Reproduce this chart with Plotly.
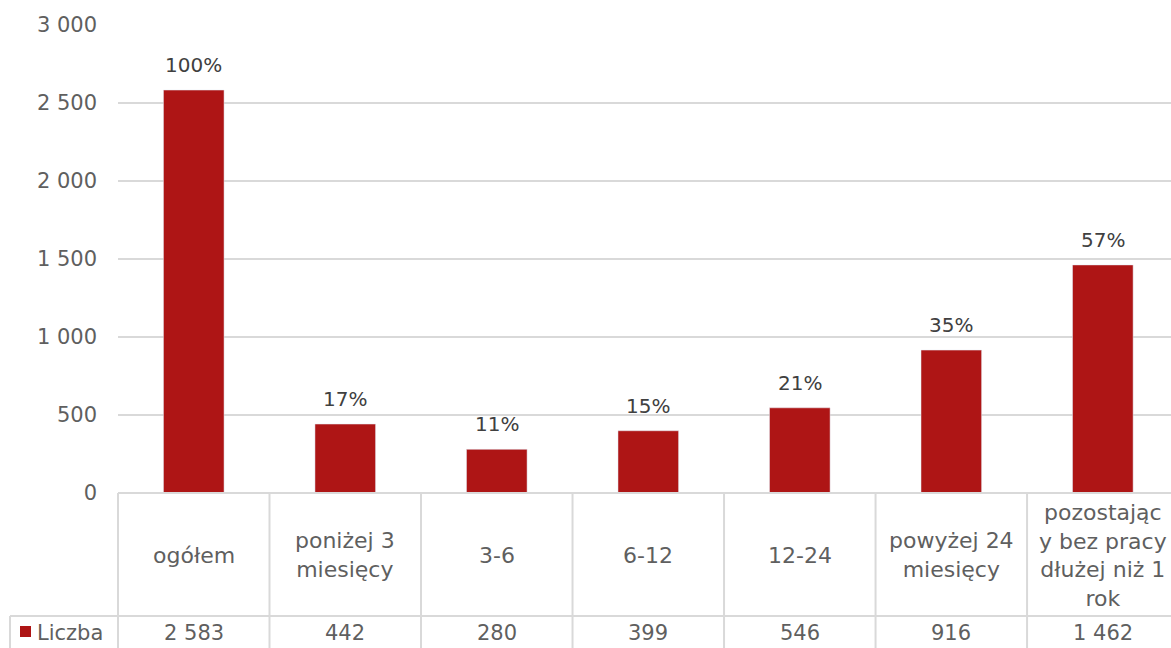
import plotly.graph_objects as go

categories = ["ogółem", "poniżej 3<br>miesięcy", "3-6", "6-12", "12-24",
              "powyżej 24<br>miesięcy", "pozostając<br>y bez pracy<br>dłużej niż 1<br>rok"]
values = [2583, 442, 280, 399, 546, 916, 1462]
percents = ["100%", "17%", "11%", "15%", "21%", "35%", "57%"]
series_name = "Liczba"
y_ticks = [0, 500, 1000, 1500, 2000, 2500, 3000]

W, H = 1171, 648
ML, MR, MT, MB = 118, 0, 25, 155
PW, PH = W - ML - MR, H - MT - MB
xmin, xmax = -0.5, 6.45

FONT = "DejaVu Sans"
TXT = "#5f5f5f"
GRID = "#D9D9D9"
BAR = "#AE1515"

def fmt(v):
    return f"{v:,}".replace(",", " ")

def px_x(px):
    return (px - ML) / PW

def py_y(py):
    return (H - MB - py) / PH

def dx_paper(xd):
    return (xd - xmin) / (xmax - xmin)

xs = list(range(len(values)))
fig = go.Figure()
fig.add_trace(go.Bar(
    x=xs, y=values, width=0.4, marker_color=BAR, name=series_name,
    showlegend=False, hoverinfo="skip",
))

shapes = []
line = dict(color=GRID, width=2)
shapes.append(dict(type="line", xref="paper", yref="paper", x0=0, x1=1, y0=0, y1=0, line=line))
y_sep = py_y(616)
y_bot = py_y(H + 20)
shapes.append(dict(type="line", xref="paper", yref="paper", x0=px_x(10), x1=1, y0=y_sep, y1=y_sep, line=line))
for k in range(len(values) + 1):
    xb = dx_paper(k - 0.5)
    if xb <= 1.0:
        shapes.append(dict(type="line", xref="paper", yref="paper", x0=xb, x1=xb, y0=0, y1=y_bot, line=line))
shapes.append(dict(type="line", xref="paper", yref="paper", x0=px_x(10), x1=px_x(10), y0=y_sep, y1=y_bot, line=line))
shapes.append(dict(type="rect", xref="paper", yref="paper", x0=px_x(20), x1=px_x(31),
                   y0=py_y(637), y1=py_y(626), fillcolor=BAR, line=dict(width=0)))

annotations = []
for i, c in enumerate(categories):
    annotations.append(dict(x=i, xref="x", y=values[i], yref="y", text=percents[i], showarrow=False,
                            xanchor="center", yanchor="bottom", yshift=11,
                            font=dict(family=FONT, size=20, color="#404040")))
    annotations.append(dict(x=i, xref="x", y=py_y(555), yref="paper", text=c, showarrow=False,
                            xanchor="center", yanchor="middle", align="center",
                            font=dict(family=FONT, size=22, color=TXT)))
    annotations.append(dict(x=i, xref="x", y=py_y(633), yref="paper", text=fmt(values[i]), showarrow=False,
                            xanchor="center", yanchor="middle",
                            font=dict(family=FONT, size=21, color=TXT)))
annotations.append(dict(x=px_x(35), xref="paper", y=py_y(633), yref="paper", text=series_name, showarrow=False,
                        xanchor="left", yanchor="middle",
                        font=dict(family=FONT, size=21, color=TXT)))

fig.update_layout(
    width=W, height=H,
    margin=dict(l=ML, r=MR, t=MT, b=MB),
    plot_bgcolor="white", paper_bgcolor="white",
    bargap=0.6,
    shapes=shapes,
    annotations=annotations,
    xaxis=dict(range=[xmin, xmax], showticklabels=False, showgrid=False, zeroline=False,
               showline=False, ticks=""),
    yaxis=dict(range=[0, 3000], tickvals=y_ticks, ticktext=[fmt(v) for v in y_ticks],
               showgrid=True, gridcolor=GRID, gridwidth=2, zeroline=False, showline=False,
               ticks="", ticklabelstandoff=20,
               tickfont=dict(family=FONT, size=21, color=TXT)),
)

fig.write_html("out.html", config={"displayModeBar": False},
               post_script="document.body.style.margin='0';document.body.style.overflow='hidden';")
